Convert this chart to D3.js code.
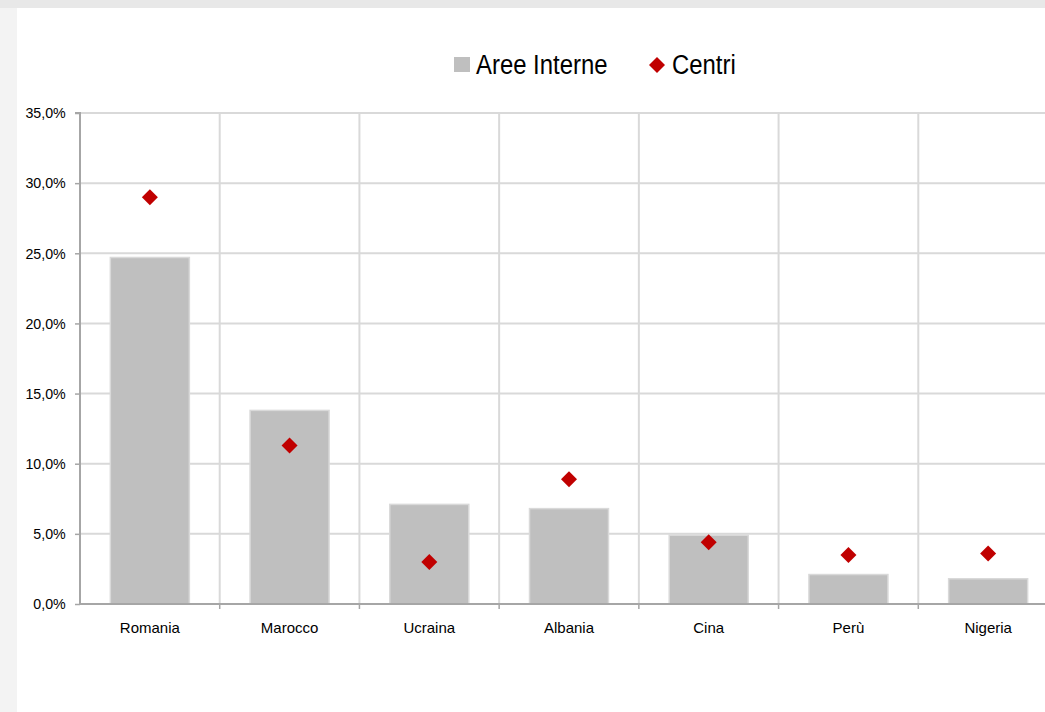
<!DOCTYPE html>
<html><head><meta charset="utf-8">
<script src="https://cdn.jsdelivr.net/npm/d3@7"></script>
<style>
html,body{margin:0;padding:0;background:#f3f3f3;}
svg{display:block;}
</style></head>
<body>
<svg id="c" width="1045" height="712"></svg>
<script>
const categories = ["Romania","Marocco","Ucraina","Albania","Cina","Perù","Nigeria"];
const areeInterne = [24.7, 13.8, 7.1, 6.8, 4.9, 2.1, 1.8];
const centri = [29.0, 11.3, 3.0, 8.9, 4.4, 3.5, 3.6];
const yTicks = [0,5,10,15,20,25,30,35];
const legendLabels = ["Aree Interne","Centri"];

(function(){
const svg = d3.select("#c");
const W = 1045, H = 712;
svg.append("rect").attr("x",0).attr("y",0).attr("width",W).attr("height",8).attr("fill","#e8e8e8");
svg.append("rect").attr("x",17).attr("y",8).attr("width",W-17).attr("height",H-8).attr("fill","#ffffff");

const pL = 80, pR = 1058, pT = 113, pB = 604;
const x = d3.scaleBand().domain(categories).range([pL, pR]).paddingInner(0).paddingOuter(0);
const y = d3.scaleLinear().domain([0,35]).range([pB, pT]);
const fmt = v => d3.format(".1f")(v).replace(".", ",") + "%";
const font = "Liberation Sans, Arial";

svg.append("g").selectAll("line").data(yTicks.filter(t=>t>0)).join("line")
  .attr("x1", pL).attr("x2", pR)
  .attr("y1", d=>y(d)).attr("y2", d=>y(d))
  .attr("stroke","#d9d9d9").attr("stroke-width",2);
svg.append("g").selectAll("line").data(categories.slice(1).concat(["__end"])).join("line")
  .attr("x1", d=> d==="__end" ? pR : x(d)).attr("x2", d=> d==="__end" ? pR : x(d))
  .attr("y1", pT).attr("y2", pB)
  .attr("stroke","#d9d9d9").attr("stroke-width",2);

const bw = 79;
svg.append("g").selectAll("rect").data(categories).join("rect")
  .attr("x", (d)=> x(d) + x.bandwidth()/2 - bw/2)
  .attr("y", (d,i)=> y(areeInterne[i]))
  .attr("width", bw)
  .attr("height", (d,i)=> pB - y(areeInterne[i]))
  .attr("fill","#bfbfbf").attr("stroke","#d9d9d9").attr("stroke-width",1.5);

const yAxis = d3.axisLeft(y).tickValues(yTicks).tickFormat(fmt).tickSize(5).tickPadding(10);
const gy = svg.append("g").attr("transform",`translate(${pL},0)`).call(yAxis);
gy.select(".domain").attr("stroke","#a6a6a6").attr("stroke-width",2).attr("d",`M-5,${pT}H0V${pB}`);
gy.selectAll(".tick line").attr("stroke","#a6a6a6").attr("stroke-width",1.5);
gy.selectAll("text").attr("font-family",font).attr("font-size",15).attr("fill","#000")
  .attr("transform","scale(0.95,1)");

const gx = svg.append("g").attr("transform",`translate(0,${pB})`);
gx.append("line").attr("x1",pL).attr("x2",pR).attr("y1",0).attr("y2",0).attr("stroke","#a6a6a6").attr("stroke-width",2);
gx.selectAll("line.t").data(categories.slice(1)).join("line").attr("class","t")
  .attr("x1",d=>x(d)).attr("x2",d=>x(d)).attr("y1",0).attr("y2",5).attr("stroke","#a6a6a6").attr("stroke-width",1.5);
gx.selectAll("text").data(categories).join("text")
  .attr("x", d=>x(d)+x.bandwidth()/2).attr("y", 29)
  .attr("text-anchor","middle")
  .attr("font-family",font).attr("font-size",15).attr("fill","#000")
  .text(d=>d);

const diamond = s => `M0,${-s}L${s},0L0,${s}L${-s},0Z`;
svg.append("g").selectAll("path").data(categories).join("path")
  .attr("transform",(d,i)=>`translate(${x(d)+x.bandwidth()/2},${y(centri[i])})`)
  .attr("d", diamond(8)).attr("fill","#c00000");

const lg = svg.append("g").attr("font-family",font).attr("font-size",27).attr("fill","#000");
lg.append("rect").attr("x",454).attr("y",57).attr("width",16).attr("height",15).attr("fill","#bfbfbf");
lg.append("text").attr("transform","translate(476,74) scale(0.885,1)").text(legendLabels[0]);
lg.append("path").attr("transform","translate(657,65)").attr("d",diamond(8)).attr("fill","#c00000");
lg.append("text").attr("transform","translate(672,74) scale(0.885,1)").text(legendLabels[1]);
})();
</script>
</body></html>
